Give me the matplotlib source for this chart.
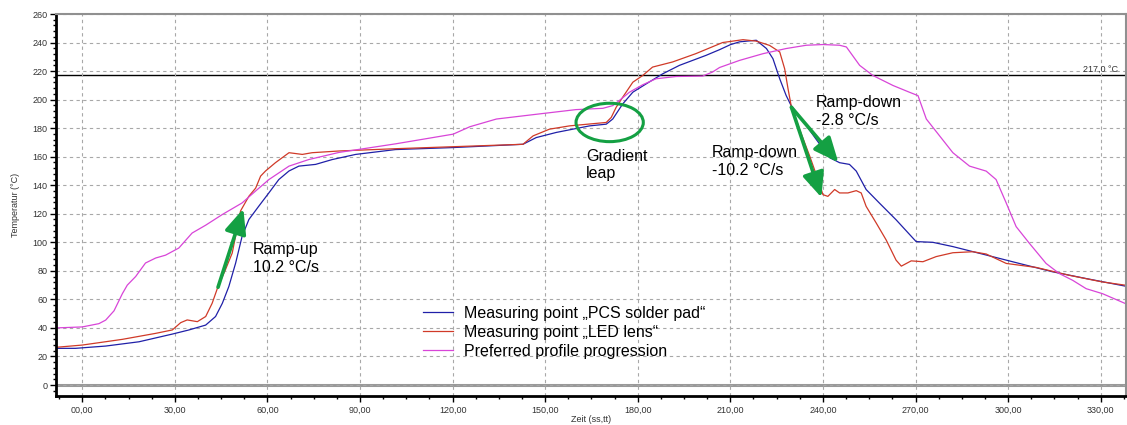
import matplotlib
matplotlib.use("Agg")
import matplotlib.pyplot as plt
from matplotlib.patches import Ellipse
from matplotlib.ticker import MultipleLocator, FuncFormatter

# Measuring point "PCS solder pad" (blue)
pcs_t = [-8.6, -2.2, 7.6, 18.4, 29.2, 34.6, 40, 43.2, 45.4, 47.5, 49.7, 51.8, 54, 57.2,
         60.5, 63.7, 67, 70.2, 75.6, 81, 88.6, 101.5, 120.2, 142.8, 147.1, 153.6, 164.4,
         169.8, 171.9, 175.1, 178.4, 182.7, 188.1, 193.5, 202.1, 206.5, 210, 213, 218.4,
         221.7, 223.8, 226, 228.1, 229.7, 233.5, 237.8, 242.2, 245.4, 248.6, 250.8, 254,
         258.3, 263.7, 270.2, 275.6, 282.1, 292.9, 303.6, 314.5, 325.3, 338.2]
pcs_temp = [25.7, 25.7, 27.3, 30.3, 35.7, 38.6, 42, 48, 57.3, 69, 85.4, 104.2, 116, 125.3,
            134.7, 144, 150, 153.4, 154.6, 158, 161.6, 165, 166.4, 168.7, 173.4, 177, 181.6,
            182.8, 186.4, 196.9, 205.2, 211, 218.1, 224, 231, 235, 238.5, 240.5, 241.6,
            235.8, 228.7, 214.6, 202.8, 195.8, 185.2, 172.2, 159.3, 155.8, 154.6, 149.9, 137,
            127.5, 115.8, 100.5, 100, 97, 91.1, 85.2, 79.3, 74.6, 69.2]

# Measuring point "LED lens" (red)
led_t = [-8.6, 0, 13, 23.8, 29.2, 31.9, 34, 37.3, 40, 42.1, 44, 46.4, 48.6, 51.3, 54, 56.2,
         57.8, 59.4, 62.6, 67, 71.3, 74.5, 83.2, 101.5, 120.2, 142.8, 146.1, 151.4, 157.9,
         169.8, 171.4, 173, 175.1, 178.4, 181.6, 184.8, 191.3, 198.8, 207.5, 214.1, 218.4,
         222.7, 226, 227.6, 228.7, 229.7, 232.4, 235.7, 238.4, 240, 241.6, 243.8, 245.4,
         248.1, 250.8, 252.4, 254, 257.3, 260.5, 263.7, 265.4, 268.6, 272.4, 276.7, 282.1,
         288.6, 292.9, 299.4, 309.1, 319.8, 330.6, 338.2]
led_temp = [26.4, 28, 32, 36.2, 38.6, 43.7, 45.6, 44.4, 48, 57.3, 69, 80.8, 92.5, 122, 132.3, 138,
            146.4, 150, 155.8, 162.8, 161.6, 162.8, 164, 165.6, 167, 168.7, 174.6, 179.3, 181.6,
            184, 187.5, 194.6, 201.6, 212.2, 216.9, 222.8, 226.4, 232.2, 240, 242, 241,
            238, 233.4, 221.6, 207.5, 195.8, 179.3, 160.5, 144, 133.4, 132.2, 137, 134.6,
            134.6, 136.2, 134.6, 125.2, 113.4, 101.6, 87.5, 83.3, 87, 86.4, 90, 92.7,
            93.4, 91.8, 85.2, 82.4, 76.9, 72.2, 69.9]

# Preferred profile progression (magenta)
pref_t = [-8.6, 0, 5.4, 7.6, 10.3, 13, 14.6, 17.3, 20.5, 23.8, 27, 31.3, 35.6, 40, 45.4, 51.8,
          56.2, 60.5, 67, 73.4, 83.2, 101.5, 120.2, 125.6, 134.2, 148.2, 160, 168.7, 171.9,
          174, 177.3, 181.6, 185.9, 192.4, 201, 204.2, 206.5, 213, 220.6, 228.1, 234.6, 240,
          245.4, 247.6, 251.9, 256.2, 262.7, 268, 270.8, 273.5, 277.8, 282.1, 287.5, 292.9,
          296.1, 299.4, 302.6, 306.9, 312.3, 316.6, 320.9, 325.3, 330.6, 338.2]
pref_temp = [40, 40.7, 43, 45.5, 52, 64, 70, 76, 85.5, 89, 91, 96, 106.5, 112, 119.5, 127.6,
             136, 144, 153.4, 158, 163, 169, 175.8, 181, 186.4, 190, 193, 193.9, 195.8,
             199.3, 205.2, 210.4, 214.6, 216.2, 216.5, 219.3, 222.5, 227.5, 232.2, 235.8, 238.1, 238.6,
             238.1, 236.9, 224, 216.9, 209.9, 205.2, 202.8, 186.4, 174.6, 162.8, 153.4, 149.9,
             144, 127.5, 111, 99.3, 85.2, 78.1, 73.4, 67.5, 64, 56.9]

labels = ["Measuring point \u201ePCS solder pad\u201c",
          "Measuring point \u201eLED lens\u201c",
          "Preferred profile progression"]
limit_temp = 217.0

green = "#14a043"
txt_font = "Liberation Sans"

fig = plt.figure(figsize=(11.27, 4.25), dpi=100)
ax = fig.add_axes([56 / 1127, 29 / 425, 1070 / 1127, 382 / 425])

ax.plot(pcs_t, pcs_temp, color="#2020a8", lw=0.9, label=labels[0])
ax.plot(led_t, led_temp, color="#d03a28", lw=0.9, label=labels[1])
ax.plot(pref_t, pref_temp, color="#d845d8", lw=0.9, label=labels[2])

ax.axhline(limit_temp, color="black", lw=1.0, zorder=1)
ax.axhline(0, color="#999999", lw=2.2, zorder=1)
ax.text(335.5, limit_temp + 1.2, "217,0 °C", fontsize=6.5, ha="right", va="bottom",
        color="#333333", family=txt_font)

ax.set_xlim(-8.5, 338.2)
ax.set_ylim(-7.7, 260)
ax.xaxis.set_major_locator(MultipleLocator(30))
ax.xaxis.set_minor_locator(MultipleLocator(7.5))
ax.yaxis.set_major_locator(MultipleLocator(20))
ax.yaxis.set_minor_locator(MultipleLocator(4))
ax.xaxis.set_major_formatter(FuncFormatter(lambda v, p: f"{v:05.2f}".replace(".", ",")))
ax.grid(True, which="major", color="#a8a8a8", ls=(0, (3, 3)), lw=0.8)

for s in ["top", "right"]:
    ax.spines[s].set_color("#909090")
    ax.spines[s].set_linewidth(1.5)
for s in ["left", "bottom"]:
    ax.spines[s].set_color("black")
    ax.spines[s].set_linewidth(2)

ax.tick_params(which="major", length=4, width=1, pad=2, labelsize=6.5, labelcolor="#333333")
ax.tick_params(which="minor", length=2.5, width=1)
ax.tick_params(axis="x", pad=3)
for lab in ax.get_xticklabels() + ax.get_yticklabels():
    lab.set_family(txt_font)

ax.set_xlabel("Zeit (ss,tt)", fontsize=6.5, family=txt_font, labelpad=0, color="#333333")
ax.set_ylabel("Temperatur (°C)", fontsize=6.5, family=txt_font, labelpad=9, color="#333333")

leg = ax.legend(loc="upper left", bbox_to_anchor=(423 / 1127, 1 - 306 / 425),
                bbox_transform=fig.transFigure, frameon=False, borderpad=0,
                borderaxespad=0, handlelength=1.9, handletextpad=0.65, labelspacing=0.25,
                prop={"family": txt_font, "size": 11.5})

# annotations
arrow = dict(arrowstyle="-|>,head_length=0.75,head_width=0.33", color=green, lw=2.6,
             mutation_scale=20, shrinkA=0, shrinkB=0)
ax.annotate("", xy=(52.2, 123.5), xytext=(44, 68.5), arrowprops=arrow)
ax.annotate("", xy=(245, 156), xytext=(229.8, 194.6), arrowprops=arrow)
ax.annotate("", xy=(239.5, 131.5), xytext=(229.8, 194.6), arrowprops=arrow)

ax.add_patch(Ellipse((170.9, 184), 21.8, 26.9, fill=False, edgecolor=green, lw=2.2, zorder=5))

ax.text(55.2, 100, "Ramp-up\n10.2 °C/s", fontsize=11.5, family=txt_font, va="top",
        linespacing=1.2)
ax.text(163.2, 165.5, "Gradient\nleap", fontsize=11.5, family=txt_font, va="top",
        linespacing=1.2)
ax.text(237.7, 203, "Ramp-down\n-2.8 °C/s", fontsize=11.5, family=txt_font, va="top",
        linespacing=1.2)
ax.text(203.9, 168, "Ramp-down\n-10.2 °C/s", fontsize=11.5, family=txt_font, va="top",
        linespacing=1.2)

plt.savefig("out.png", dpi=100)
